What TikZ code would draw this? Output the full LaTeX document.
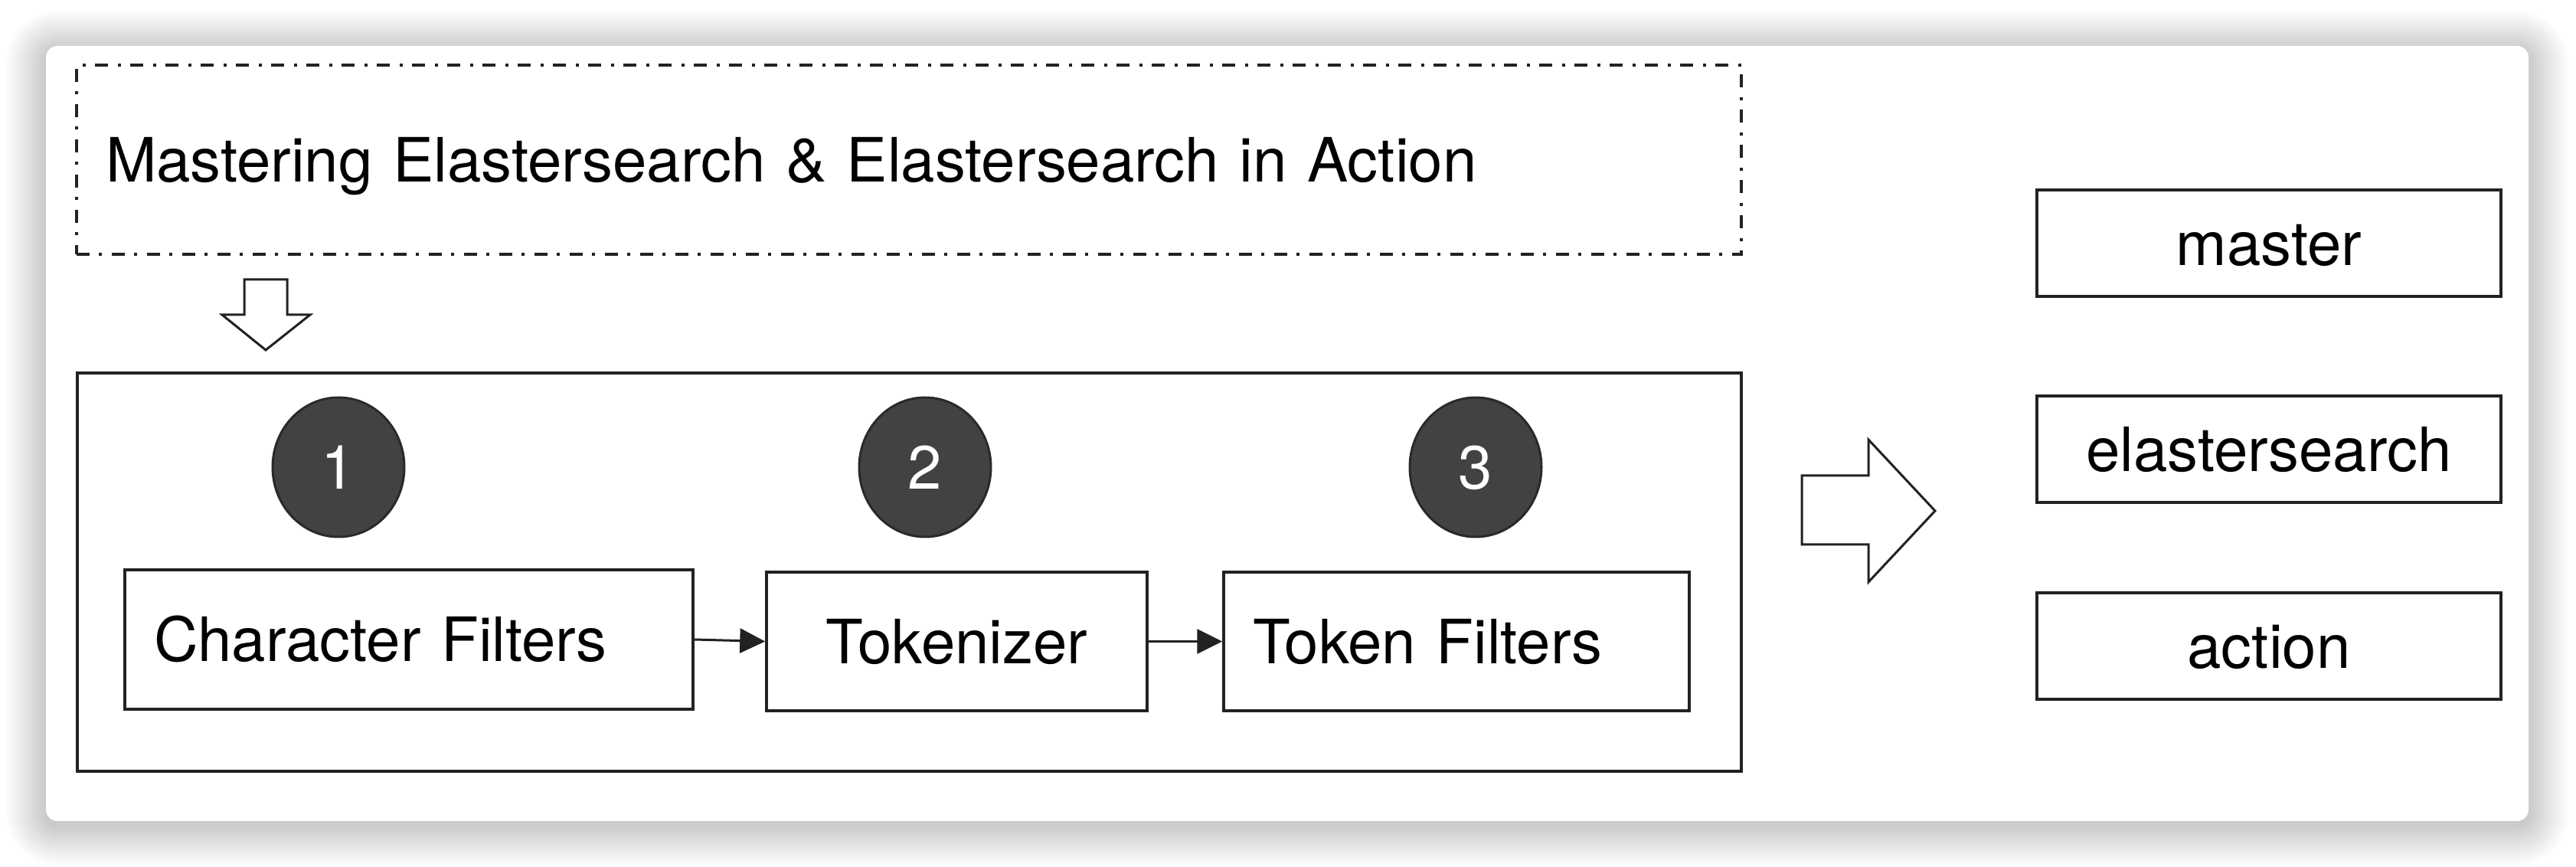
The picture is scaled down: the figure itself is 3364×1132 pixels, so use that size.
\documentclass[tikz,border=0pt]{standalone}
\usepackage{fontspec}
\setmainfont{TeX Gyre Heros}
\usetikzlibrary{arrows.meta,shapes.geometric}
\definecolor{ink}{HTML}{222222}
\definecolor{discfill}{HTML}{424242}
\definecolor{discedge}{HTML}{2A2A2A}
\begin{document}
\begin{tikzpicture}[x=0.25pt,y=-0.25pt,
  txt/.style={font=\fontsize{19.95pt}{23pt}\selectfont, text height=14.3pt, text depth=0pt},
  box/.style={draw=ink, line width=0.875pt, fill=white, rectangle, inner sep=0pt, txt},
  lbox/.style={box, inner xsep=9.5pt, text width=#1, align=left},
  cbox/.style={box, minimum width=151.5pt, minimum height=34.75pt},
  disc/.style={ellipse, fill=discfill, draw=discedge, line width=0.75pt, minimum width=43pt, minimum height=45.5pt, inner sep=0pt, text=white, txt},
  hollow/.style={draw=ink, line width=0.75pt, fill=white, line join=miter},
  conn/.style={draw=ink, line width=0.75pt, -{Triangle[length=8.25pt,width=8pt]}},
]
\clip (0,0) rectangle (3364,1132);
\fill[white] (0,0) rectangle (3364,1132);
% card shadow
\foreach \i [evaluate=\i as \r using 3.75+0.5*\i] in {1,...,26}
  \fill[black, opacity=0.0075, rounded corners=\r pt] (60-2*\i,66-2*\i) rectangle (3302+2*\i,1078+2*\i);
% card
\fill[white, rounded corners=3.75pt] (60,60) rectangle (3302,1072);

% input text
\node[lbox=524.5pt, minimum height=61.75pt, dash pattern=on 4.25pt off 3pt on 1pt off 3.25pt] (title) at (1187,208.5)
  {Mastering Elastersearch \& Elastersearch in Action};

% hollow down arrow
\draw[hollow] (319,365) -- (375,365) -- (375,411) -- (405,411) -- (347,457) -- (290,411) -- (319,411) -- cycle;

% analyzer frame
\node[draw=ink, line width=0.875pt, rectangle, minimum width=543.25pt, minimum height=130pt, inner sep=0pt] (stage) at (1187.5,747) {};

% steps
\node[disc] (n1) at (442,610) {1};
\node[disc] (n2) at (1208,610) {2};
\node[disc] (n3) at (1927,610) {3};

\node[lbox=166.5pt, minimum height=45.5pt] (char) at (534,835) {Character Filters};
\node[box, minimum width=124.25pt, minimum height=45.25pt] (tok) at (1249.5,837.5) {Tokenizer};
\node[lbox=133pt, minimum height=45.25pt] (tf) at (1902,837.5) {Token Filters};

\draw[conn] (char.east) -- (tok.west);
\draw[conn] (tok.east) -- (tf.west);

% hollow right arrow
\draw[hollow] (2353,621) -- (2440,621) -- (2440,574) -- (2527,667) -- (2440,760) -- (2440,711) -- (2353,711) -- cycle;

% output terms
\node[cbox] (master) at (2963,317.5) {master};
\node[cbox] (elastic) at (2963,586.5) {elastersearch};
\node[cbox] (action) at (2963,843.5) {action};
\end{tikzpicture}
\end{document}
